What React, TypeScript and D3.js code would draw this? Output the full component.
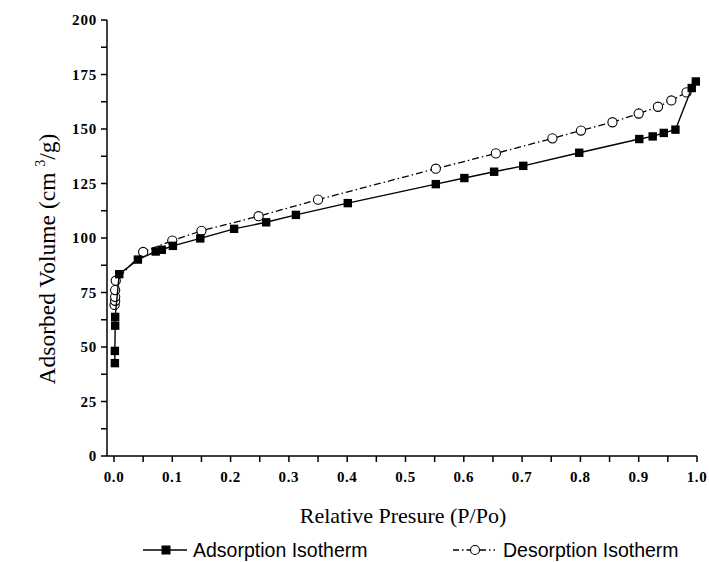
import React, { useEffect, useRef } from 'react';
import * as d3 from 'd3';

// adsorption branch (filled squares)
const adsX = [0.0015, 0.0015, 0.002, 0.002, 0.009, 0.041, 0.0715, 0.082, 0.101, 0.148, 0.206, 0.261, 0.312, 0.401, 0.552, 0.601, 0.652, 0.702, 0.798, 0.901, 0.924, 0.943, 0.963, 0.991, 0.998];
const adsY = [42.6, 48.2, 59.8, 63.8, 83.4, 90.1, 93.8, 94.6, 96.4, 99.8, 104.2, 107.2, 110.6, 116.0, 124.7, 127.5, 130.4, 133.1, 139.1, 145.4, 146.6, 148.2, 149.7, 168.8, 171.8];

// desorption branch (open circles)
const desX = [0.001, 0.002, 0.002, 0.002, 0.003, 0.05, 0.1, 0.15, 0.248, 0.35, 0.552, 0.655, 0.752, 0.801, 0.855, 0.9, 0.933, 0.956, 0.982];
const desY = [69.3, 71.2, 73.0, 76.1, 80.4, 93.6, 98.8, 103.3, 110.0, 117.6, 131.8, 138.8, 145.7, 149.3, 153.1, 157.1, 160.2, 163.1, 166.8];

const xMajor = [0, 0.1, 0.2, 0.3, 0.4, 0.5, 0.6, 0.7, 0.8, 0.9, 1.0];
const yMajor = [0, 25, 50, 75, 100, 125, 150, 175, 200];

const serif = '"Liberation Serif", "DejaVu Serif", serif';
const sans = '"Liberation Sans", Arial, sans-serif';

const IsothermChart = () => {
  const svgRef = useRef<SVGSVGElement>(null);

  useEffect(() => {
    const svg = d3.select(svgRef.current);
    svg.selectAll('*').remove();

    const x = d3.scaleLinear().domain([-0.012, 1.0]).range([107, 697]);
    const y = d3.scaleLinear().domain([0, 200]).range([456, 20]);

    const ads = adsX.map((v, i) => [v, adsY[i]] as [number, number]);
    const des = desX.map((v, i) => [v, desY[i]] as [number, number]);

    // axes
    const xMinor = d3.range(0, 1.0001, 0.05);
    const yMinor = d3.range(0, 200.001, 12.5);

    const xAxis = svg.append('g').attr('transform', `translate(0,${y(0)})`);
    xAxis.append('line').attr('x1', 107).attr('x2', 697).attr('stroke', '#000').attr('stroke-width', 1.5);
    xAxis.selectAll('.tk').data(xMinor).enter().append('line')
      .attr('x1', d => x(d)).attr('x2', d => x(d))
      .attr('y1', 0).attr('y2', 6)
      .attr('stroke', '#000').attr('stroke-width', 1.5);
    xAxis.selectAll('.lb').data(xMajor).enter().append('text')
      .attr('x', d => x(d)).attr('y', 26)
      .attr('text-anchor', 'middle')
      .style('font-family', serif).style('font-weight', 'bold').style('font-size', '15px')
      .style('letter-spacing', '0.6px')
      .text(d => d3.format('.1f')(d));

    const yAxis = svg.append('g').attr('transform', `translate(107,0)`);
    yAxis.append('line').attr('y1', y(0)).attr('y2', y(200)).attr('stroke', '#000').attr('stroke-width', 1.5);
    yAxis.selectAll('.tk').data(yMinor).enter().append('line')
      .attr('y1', d => y(d)).attr('y2', d => y(d))
      .attr('x1', 0).attr('x2', -6)
      .attr('stroke', '#000').attr('stroke-width', 1.5);
    yAxis.selectAll('.lb').data(yMajor).enter().append('text')
      .attr('x', -10).attr('y', d => y(d) + 5)
      .attr('text-anchor', 'end')
      .style('font-family', serif).style('font-weight', 'bold').style('font-size', '15px')
      .style('letter-spacing', '0.8px')
      .text(d => d);

    // axis titles
    svg.append('text')
      .attr('x', 403).attr('y', 523)
      .attr('text-anchor', 'middle')
      .style('font-family', serif).style('font-size', '22px')
      .text('Relative Presure (P/Po)');

    const yt = svg.append('text')
      .attr('transform', 'translate(55,259) rotate(-90)')
      .attr('text-anchor', 'middle')
      .style('font-family', serif).style('font-size', '23.5px');
    yt.append('tspan').text('Adsorbed Volume (cm ');
    yt.append('tspan').attr('dy', -10).style('font-size', '14px').text('3');
    yt.append('tspan').attr('dy', 10).text('/g)');

    const line = d3.line<[number, number]>().x(d => x(d[0])).y(d => y(d[1]));

    // desorption
    svg.append('path').datum(des)
      .attr('d', line).attr('fill', 'none')
      .attr('stroke', '#000').attr('stroke-width', 1.3)
      .attr('stroke-dasharray', '7,3,1.5,3');
    svg.selectAll('.dpt').data(des).enter().append('circle')
      .attr('cx', d => x(d[0])).attr('cy', d => y(d[1]))
      .attr('r', 4.6)
      .attr('fill', '#fff').attr('stroke', '#000').attr('stroke-width', 1.1);

    // adsorption
    svg.append('path').datum(ads)
      .attr('d', line).attr('fill', 'none')
      .attr('stroke', '#000').attr('stroke-width', 1.4);
    svg.selectAll('.apt').data(ads).enter().append('rect')
      .attr('x', d => x(d[0]) - 4.2).attr('y', d => y(d[1]) - 4.2)
      .attr('width', 8.4).attr('height', 8.4)
      .attr('fill', '#000');

    // legend
    const lg = svg.append('g');
    lg.append('line').attr('x1', 143).attr('x2', 187).attr('y1', 550).attr('y2', 550)
      .attr('stroke', '#000').attr('stroke-width', 1.6);
    lg.append('rect').attr('x', 161.5).attr('y', 545.5).attr('width', 9).attr('height', 9).attr('fill', '#000');
    lg.append('text').attr('x', 193).attr('y', 556.5)
      .style('font-family', sans).style('font-size', '19.5px')
      .text('Adsorption Isotherm');

    lg.append('line').attr('x1', 453).attr('x2', 495).attr('y1', 550).attr('y2', 550)
      .attr('stroke', '#000').attr('stroke-width', 1.3).attr('stroke-dasharray', '6,3,1.5,3');
    lg.append('circle').attr('cx', 475).attr('cy', 550).attr('r', 4.5)
      .attr('fill', '#fff').attr('stroke', '#000').attr('stroke-width', 1.1);
    lg.append('text').attr('x', 503).attr('y', 556.5)
      .style('font-family', sans).style('font-size', '19.5px')
      .text('Desorption Isotherm');
  }, []);

  return <svg ref={svgRef} width={709} height={562} style={{ display: 'block' }}></svg>;
};

export default function App() {
  return (
    <div style={{ position: 'absolute', left: 0, top: 0, background: '#fff' }}>
      <IsothermChart />
    </div>
  );
}
